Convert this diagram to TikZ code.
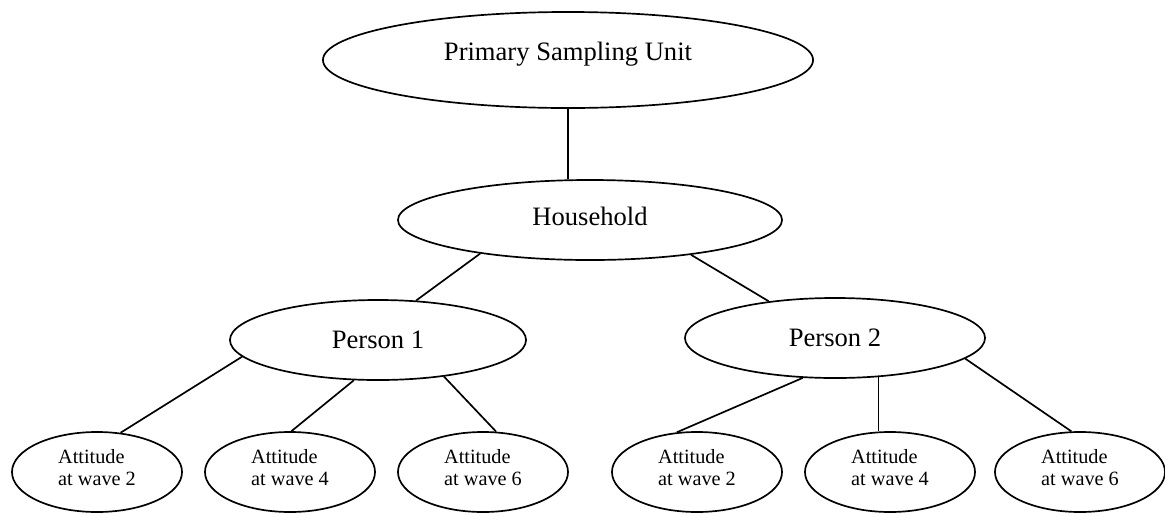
\documentclass[tikz,border=0pt]{standalone}
\usepackage{fontspec}
\setmainfont{Liberation Serif}
\usetikzlibrary{shapes.geometric}

\begin{document}
\begin{tikzpicture}[x=0.025cm, y=-0.025cm, line width=1.2pt,
    level/.style={ellipse, draw, inner sep=0pt, minimum height=2cm, font=\fontsize{18.9pt}{22pt}\selectfont},
    wave/.style={ellipse, draw, inner sep=0pt, minimum width=4.25cm, minimum height=2cm, align=left, text depth=0.25cm, font=\fontsize{14.4pt}{15.6pt}\selectfont}]

    \useasboundingbox (0,0) rectangle (1165,515);

    % sampling unit
    \node [level, minimum width=12.25cm, minimum height=2.4cm, text depth=0.46cm] (psu) at (568,60) {Primary Sampling Unit};

    % household
    \node [level, minimum width=9.6cm, text depth=0.18cm] (hh) at (590,220) {Household};
    \draw (psu.south) -- (psu.south |- hh.north);

    % persons
    \node [level, minimum width=7.4cm] (p1) at (378,340) {Person 1};
    \node [level, minimum width=7.5cm] (p2) at (835,338) {Person 2};
    \draw (hh.197) -- (p1.46);
    \draw (hh.341) -- (p2.151);

    % attitudes of person 1
    \node [wave] (p1w2) at (97,472) {Attitude\\at wave 2};
    \node [wave] (p1w4) at (290,472) {Attitude\\at wave 4};
    \node [wave] (p1w6) at (483,472) {Attitude\\at wave 6};
    \draw (p1.187) -- (p1w2.59);
    \draw (p1.239) -- (p1w4.88);
    \draw (p1.331) -- (p1w6.72);

    % attitudes of person 2
    \node [wave] (p2w2) at (697,472) {Attitude\\at wave 2};
    \node [wave] (p2w4) at (890,472) {Attitude\\at wave 4};
    \node [wave] (p2w6) at (1080,472) {Attitude\\at wave 6};
    \draw (p2.231) -- (p2w2.117);
    \draw (p2.318) -- (p2.318 |- p2w4.north);
    \draw (p2.351) -- (p2w6.102);

\end{tikzpicture}
\end{document}
